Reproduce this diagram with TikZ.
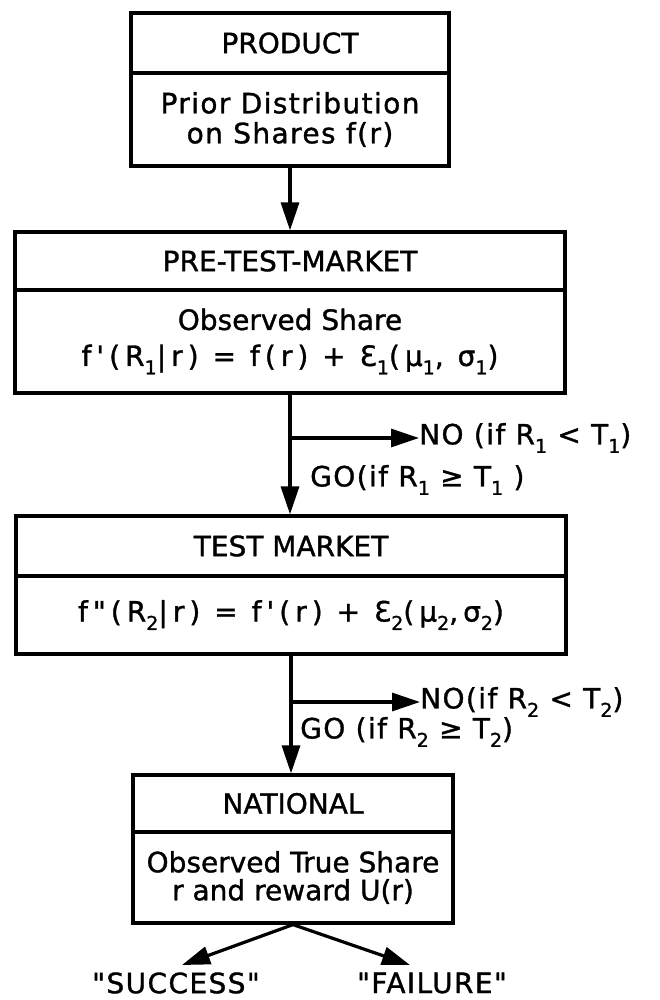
\documentclass[tikz,border=0pt]{standalone}
\usepackage{fontspec}
\usetikzlibrary{arrows.meta}
% lettering fonts: plain and tracked variants, slightly emboldened
\newfontfamily\lett[FakeBold=1.2]{DejaVu Sans}
\newfontfamily\lettw[FakeBold=1.2,LetterSpace=5]{DejaVu Sans}
\newfontfamily\lettf[FakeBold=1.2,LetterSpace=18]{DejaVu Sans}
% lowered index digit
\newcommand\idx[1]{\raisebox{-0.3em}{\fontsize{19}{19}\selectfont #1}}

\begin{document}
\begin{tikzpicture}[x=1pt,y=-1pt,
  every node/.style={inner sep=0pt},
  cell/.style={draw, line width=3.2pt, align=center},
  head/.style={cell, font=\lett\fontsize{28}{30}\selectfont},
  body/.style={cell, font=\lettw\fontsize{28}{30}\selectfont},
  formula/.style={cell, font=\lettf\fontsize{28}{36}\selectfont},
  lbl/.style={font=\lettw\fontsize{28}{30}\selectfont, anchor=west},
  outcome/.style={font=\lettw\fontsize{28}{30}\selectfont},
  arr/.style={line width=3.2pt, -{Triangle[length=28pt,width=18pt]}},
  link/.style={line width=3.2pt}]
\useasboundingbox (0,0) rectangle (659,1000);

% PRODUCT
\node[head, minimum width=318pt, minimum height=60pt] (prodh) at (290,43) {PRODUCT};
\node[body, minimum width=318pt, minimum height=93pt] (prodb) at (290,119.5)
  {Prior Distribution\\on Shares f(r)};

% PRE-TEST-MARKET
\node[head, minimum width=550pt, minimum height=58pt] (preh) at (290,261) {PRE-TEST-MARKET};
\node[formula, minimum width=550pt, minimum height=103pt] (preb) at (290,341.5)
  {{\lett Observed Share}\\f'(R\idx{1}|r) = f(r) + Ɛ\idx{1}(μ\idx{1}, σ\idx{1})};

% TEST MARKET
\node[head, minimum width=550pt, minimum height=60pt] (testh) at (291,546) {TEST MARKET};
\node[formula, minimum width=550pt, minimum height=78pt] (testb) at (291,615)
  {f"(R\idx{2}|r) =\ f'(r) + Ɛ\idx{2}(μ\idx{2},σ\idx{2})};

% NATIONAL
\node[head, minimum width=320pt, minimum height=57pt] (nath) at (293,803.5) {NATIONAL};
\node[cell, font=\lett\fontsize{28}{28}\selectfont, minimum width=320pt, minimum height=91pt]
  (natb) at (293,877.5) {Observed True Share\\r and reward U(r)};

% decision labels
\coordinate (j1) at (290,438);
\node[lbl] (no1) at (419,438) {NO (if R\idx{1} < T\idx{1})};
\node[lbl] (go1) at (310,480) {GO(if R\idx{1} ≥ T\idx{1} )};
\coordinate (j2) at (291,702);
\node[lbl] (no2) at (420,702) {NO(if R\idx{2} < T\idx{2})};
\node[lbl] (go2) at (300,732) {GO (if R\idx{2} ≥ T\idx{2})};

% outcomes
\node[outcome] (succ) at (176,983) {"SUCCESS"};
\node[outcome] (fail) at (432,983) {"FAILURE"};
\coordinate (succtip) at (182,965);
\coordinate (failtip) at (410,965);

% connectors
\draw[arr] (prodb.south) -- (prodh.south |- preh.north);
\draw[arr] (preb.south) -- (preb.south |- testh.north);
\draw[arr] (j1) -- (no1.west);
\draw[arr] (testb.south) -- (testb.south |- nath.north);
\draw[arr] (j2) -- (no2.west);
\draw[arr] (natb.south) -- (succtip);
\draw[arr] (natb.south) -- (failtip);
\end{tikzpicture}
\end{document}
